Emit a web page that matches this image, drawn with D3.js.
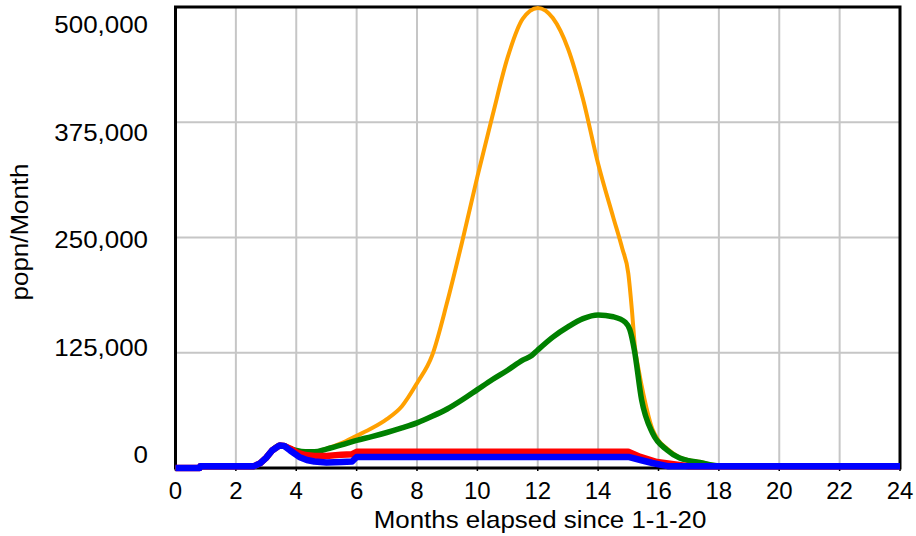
<!DOCTYPE html>
<html><head><meta charset="utf-8">
<script src="https://cdn.jsdelivr.net/npm/d3@7"></script>
<style>html,body{margin:0;padding:0;background:#fff;}svg{display:block;}</style>
</head><body><svg id="c" width="916" height="536"></svg>
<script>
const xTicks = [0,2,4,6,8,10,12,14,16,18,20,22,24];
const yTicks = [0,125000,250000,375000,500000];
const yTickLabels = ["0","125,000","250,000","375,000","500,000"];
const xTitle = "Months elapsed since 1-1-20";
const yTitle = "popn/Month";

const orangeT = [0,0.8,0.82,2.6,2.8,3.0,3.2,3.45,3.6,3.8,4.0,4.3,4.6,5.0,5.5,6.0,6.5,7.0,7.5,8.0,8.5,9.0,9.5,10.0,10.5,11.0,11.5,12.0,12.5,13.0,13.5,14.0,14.5,14.8,15.0,15.12,15.22,15.35,15.5,15.8,16.0,16.3,16.7,17.0,17.4,17.8,18.2,24];
const orangeV = [0,0,2000,2000,5000,11000,19000,24500,24000,21000,19000,17500,17500,21000,27000,35000,43000,53000,67000,92000,122000,180000,246000,316000,382000,445000,487000,499000,488000,455000,400000,330000,272000,238000,211000,171000,131000,105000,80000,42000,30000,20500,11500,8500,6500,3500,2000,2000];

const greenT = [0,0.8,0.82,2.6,2.8,3.0,3.2,3.45,3.6,3.8,4.0,4.3,4.6,5.0,5.5,6.0,6.5,7.0,7.5,8.0,8.5,9.0,9.5,10.0,10.5,11.0,11.5,11.8,12.0,12.5,13.0,13.5,14.0,14.5,14.9,15.05,15.2,15.44,15.8,16.28,16.7,17.0,17.37,17.8,18.2,24];
const greenV = [0,0,2000,2000,5000,11000,19000,24500,24000,21000,19000,17500,17500,20500,25000,30000,34000,38500,43500,49000,56000,64000,74000,85000,96000,106000,117000,122000,128000,142000,153000,162000,166000,164000,158000,150000,128000,74000,38000,19500,10800,8000,6000,3000,2000,2000];

const redT = [0,0.8,0.82,2.6,2.8,3.0,3.2,3.45,3.6,3.8,4.0,4.3,4.6,5.0,5.5,5.85,6.0,15.0,15.4,15.95,16.5,17.0,24];
const redV = [0,0,2000,2000,5000,11000,19000,24500,24000,21000,17000,14000,13000,13000,14500,15000,17500,17500,12000,6500,4000,2000,2000];

const blueT = [0,0.8,0.82,2.6,2.8,3.0,3.2,3.45,3.6,3.8,4.1,4.35,4.6,5.0,5.5,5.85,6.0,15.0,15.4,15.8,16.3,24];
const blueV = [0,0,2000,2000,5000,11000,19000,24500,24000,19000,12000,8700,7000,6000,6500,7000,12000,12000,8700,5400,2000,2000];

const series = [
  {t: orangeT, v: orangeV, color: "#FFA000", w: 4, curve: d3.curveMonotoneX},
  {t: greenT, v: greenV, color: "#008000", w: 5.5, curve: d3.curveMonotoneX},
  {t: redT, v: redV, color: "#FF0000", w: 6.5, curve: d3.curveLinear},
  {t: blueT, v: blueV, color: "#0000FF", w: 6.5, curve: d3.curveLinear}
];

const svg = d3.select("#c");
const font = "'Liberation Sans', Arial, sans-serif";
const x = d3.scaleLinear().domain([0,24]).range([175.5,900]);
const y = d3.scaleLinear().domain([0,500000]).range([468,7]);
const yl = d3.scaleLinear().domain([0,500000]).range([463,33]);
const sx = 1.08;

// grid
svg.append("g").selectAll("line").data(xTicks.slice(1,-1)).join("line")
  .attr("x1", d=>x(d)).attr("x2", d=>x(d)).attr("y1", y(500000)).attr("y2", y(0))
  .attr("stroke", "#c6c6c6").attr("stroke-width", 2);
svg.append("g").selectAll("line").data(yTicks.slice(1,-1)).join("line")
  .attr("x1", x(0)).attr("x2", x(24)).attr("y1", d=>y(d)).attr("y2", d=>y(d))
  .attr("stroke", "#c6c6c6").attr("stroke-width", 2);
svg.append("g").selectAll("line").data(xTicks).join("line")
  .attr("x1", d=>x(d)).attr("x2", d=>x(d)).attr("y1", y(0)).attr("y2", y(0)+3)
  .attr("stroke", "#000").attr("stroke-width", 1.5);

// frame
svg.append("rect").attr("x", x(0)).attr("y", y(500000)).attr("width", x(24)-x(0)).attr("height", y(0)-y(500000))
  .attr("fill", "none").attr("stroke", "#000").attr("stroke-width", 3);

// lines
series.forEach(s => {
  const pts = s.t.map((t,i)=>[t, s.v[i]]);
  svg.append("path").datum(pts)
    .attr("d", d3.line().x(d=>x(d[0])).y(d=>y(d[1])).curve(s.curve))
    .attr("fill", "none").attr("stroke", s.color).attr("stroke-width", s.w)
    .attr("stroke-linejoin", "round");
});

// x tick labels
svg.append("g").selectAll("text").data(xTicks).join("text")
  .attr("x", d=>x(d)).attr("y", 499).attr("text-anchor", "middle")
  .attr("font-family", font).attr("font-size", 24).attr("fill", "#000")
  .text(d=>d);
// y tick labels
svg.append("g").selectAll("text").data(yTicks).join("text")
  .attr("transform", d=>`translate(148,${yl(d)}) scale(${sx},1)`).attr("text-anchor", "end")
  .attr("font-family", font).attr("font-size", 24).attr("fill", "#000")
  .text((d,i)=>yTickLabels[i]);
// titles
svg.append("text").attr("transform", `translate(540,528) scale(${sx},1)`).attr("text-anchor", "middle")
  .attr("font-family", font).attr("font-size", 24).text(xTitle);
svg.append("text").attr("transform", `translate(28,232) rotate(-90) scale(${sx},1)`).attr("text-anchor", "middle")
  .attr("font-family", font).attr("font-size", 24).text(yTitle);
</script></body></html>
